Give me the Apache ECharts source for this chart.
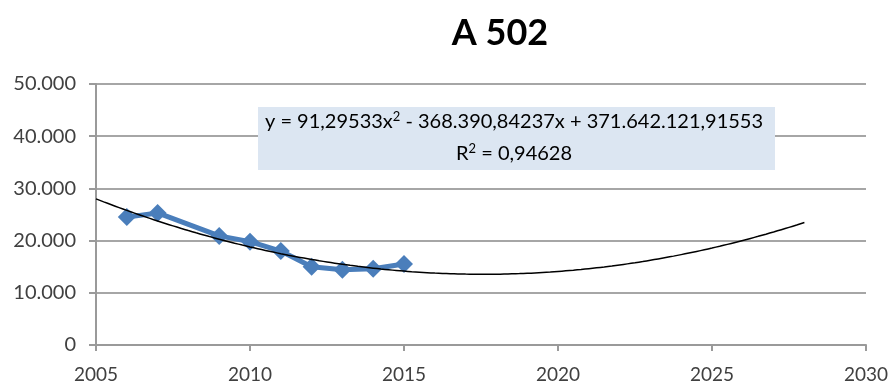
<!DOCTYPE html>
<html><head><meta charset="utf-8">
<script src="https://cdn.jsdelivr.net/npm/echarts@6/dist/echarts.min.js"></script>
<style>html,body{margin:0;padding:0;background:#fff}#c{width:893px;height:385px}</style>
</head><body><div id="c"></div>
<script>
const title = 'A 502';
const years = [2006, 2007, 2009, 2010, 2011, 2012, 2013, 2014, 2015];
const values = [24500, 25300, 20900, 19800, 18000, 15000, 14400, 14600, 15500];
const xTicks = [2005, 2010, 2015, 2020, 2025, 2030];
const yTicks = [0, 10000, 20000, 30000, 40000, 50000];
// trendline coefficients, as printed in the chart label
const trendA = 91.29533, trendB = -368390.84237, trendC = 371642121.91553;
const trendStart = 2005, trendEnd = 2028;
const eqLine1 = 'y = 91,29533x{sup|2} - 368.390,84237x + 371.642.121,91553';
const eqLine2 = 'R{sup|2} = 0,94628';

const trend = [];
for (let x = trendStart; x <= trendEnd + 1e-9; x += 0.25) {
  trend.push([x, trendA * x * x + trendB * x + trendC]);
}
const fmt = v => String(v).replace(/\B(?=(\d{3})+(?!\d))/g, '.');
const font = 'Lato, "Open Sans", sans-serif';
const rich = { sup: { fontFamily: font, fontSize: 13, verticalAlign: 'top', lineHeight: 24, fill: '#000', color: '#000' } };
const chart = echarts.init(document.getElementById('c'));
chart.setOption({
  animation: false,
  title: { text: title, left: 495, top: 10, textAlign: 'center',
    textStyle: { fontFamily: font, fontSize: 36, fontWeight: 'bold', color: '#000' } },
  grid: { left: 96, right: 27, top: 84, bottom: 40 },
  xAxis: { type: 'value', min: xTicks[0], max: xTicks[xTicks.length - 1], interval: 5,
    axisLine: { lineStyle: { color: '#9a9a9a', width: 2 } },
    axisTick: { show: true, length: 6, lineStyle: { color: '#9a9a9a', width: 2 } },
    splitLine: { show: false },
    axisLabel: { color: '#404040', fontFamily: font, fontSize: 19, margin: 20, formatter: v => String(v) } },
  yAxis: { type: 'value', min: yTicks[0], max: yTicks[yTicks.length - 1], interval: 10000,
    axisLine: { show: true, lineStyle: { color: '#9a9a9a', width: 2 } },
    axisTick: { show: true, length: 7, lineStyle: { color: '#9a9a9a', width: 2 } },
    splitLine: { show: true, lineStyle: { color: '#a6a6a6', width: 2 } },
    axisLabel: { color: '#404040', fontFamily: font, fontSize: 20, margin: 20, formatter: v => fmt(v) } },
  series: [
    { type: 'line', data: years.map((y, i) => [y, values[i]]), symbol: 'diamond', symbolSize: 18,
      lineStyle: { color: '#4a7ebb', width: 5 }, itemStyle: { color: '#4a7ebb' }, z: 2 },
    { type: 'line', data: trend, symbol: 'none', smooth: true,
      lineStyle: { color: '#000', width: 1.5 }, z: 3 }
  ],
  graphic: [
    { type: 'rect', shape: { x: 258, y: 107, width: 517, height: 63 },
      style: { fill: '#dce6f2' }, z: 10 },
    { type: 'text', x: 514, y: 122, z: 11,
      style: { text: eqLine1, fontFamily: font, fontSize: 20, lineHeight: 24, fill: '#000', align: 'center', verticalAlign: 'middle', rich: rich } },
    { type: 'text', x: 514, y: 154, z: 11,
      style: { text: eqLine2, fontFamily: font, fontSize: 20, lineHeight: 24, fill: '#000', align: 'center', verticalAlign: 'middle', rich: rich } }
  ]
});
</script></body></html>
